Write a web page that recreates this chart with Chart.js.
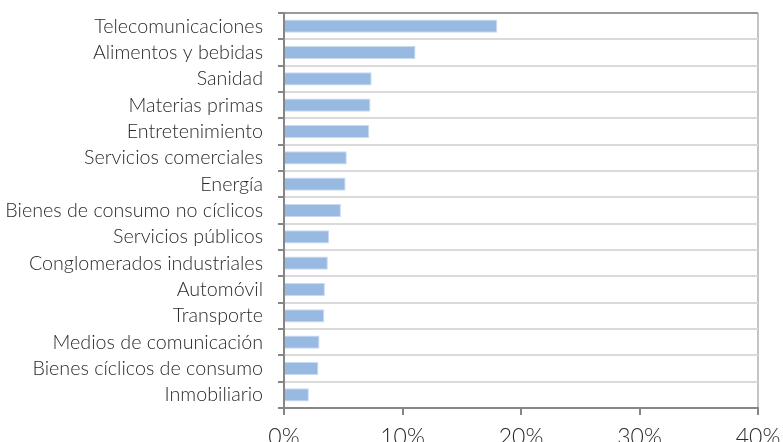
<!DOCTYPE html>
<html>
<head>
<meta charset="utf-8">
<script src="https://cdn.jsdelivr.net/npm/chart.js@4.4.0/dist/chart.umd.min.js"></script>
<style>
  html, body { margin: 0; padding: 0; background: #fff; overflow: hidden; }
  #wrap { position: relative; width: 783px; height: 442px; }
</style>
</head>
<body>
<div id="wrap"><canvas id="sectorChart"></canvas></div>
<script>
// sector weights, in percent
const sectors = [
  'Telecomunicaciones', 'Alimentos y bebidas', 'Sanidad', 'Materias primas',
  'Entretenimiento', 'Servicios comerciales', 'Energía',
  'Bienes de consumo no cíclicos', 'Servicios públicos',
  'Conglomerados industriales', 'Automóvil', 'Transporte',
  'Medios de comunicación', 'Bienes cíclicos de consumo', 'Inmobiliario'
];
const weights = [18.0, 11.1, 7.4, 7.3, 7.2, 5.3, 5.2, 4.8, 3.8, 3.7, 3.45, 3.4, 3.0, 2.9, 2.1];
const pctTicks = [0, 10, 20, 30, 40];

const axisGrey = '#868686';
const lightGrey = '#dadada';
const labelFont = "'Lato', 'Open Sans', sans-serif";

new Chart(document.getElementById('sectorChart'), {
  type: 'bar',
  data: {
    labels: sectors,
    datasets: [{
      data: weights,
      backgroundColor: '#98b9e2',
      borderColor: '#c9daf0',
      borderWidth: 1,
      barPercentage: 0.5,
      categoryPercentage: 1
    }]
  },
  options: {
    indexAxis: 'y',
    responsive: true,
    maintainAspectRatio: false,
    animation: false,
    layout: { padding: { top: 13, right: 25, left: 0, bottom: 0 } },
    plugins: { legend: { display: false }, tooltip: { enabled: false } },
    scales: {
      x: {
        min: 0, max: 40,
        afterBuildTicks: s => { s.ticks = pctTicks.map(v => ({ value: v })); },
        afterFit: s => {
          s.height = 34;
          s.paddingLeft = 0;
          s.paddingRight = 0;
        },
        ticks: {
          callback: v => v + '%',
          font: { family: labelFont, size: 23, weight: 300 },
          color: '#2a2a2a',
          padding: 9,
          maxRotation: 0
        },
        grid: {
          color: ctx => ctx.index === pctTicks.length - 1 ? '#c4c4c4' : 'transparent',
          tickColor: axisGrey,
          tickLength: 7,
          lineWidth: 2
        },
        border: { color: axisGrey, width: 2 }
      },
      y: {
        afterFit: s => {
          s.width = 284;
          s.paddingTop = 0;
          s.paddingBottom = 0;
        },
        ticks: {
          autoSkip: false,
          font: { family: labelFont, size: 19.7, weight: 300 },
          color: '#2a2a2a',
          padding: 15
        },
        grid: {
          offset: true,
          color: ctx => ctx.index === 0 ? '#9a9a9a' : lightGrey,
          tickColor: axisGrey,
          tickLength: 6,
          lineWidth: 2
        },
        border: { color: axisGrey, width: 2 }
      }
    }
  }
});
</script>
</body>
</html>
